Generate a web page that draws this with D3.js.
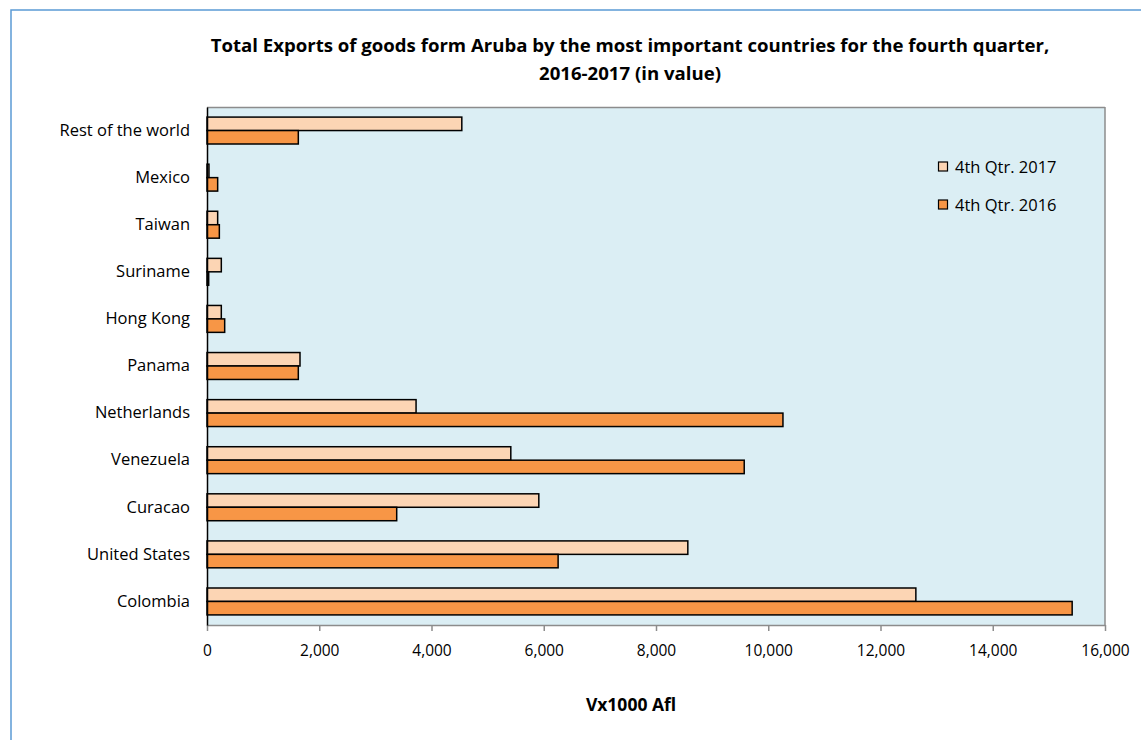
<!DOCTYPE html>
<html><head><meta charset="utf-8">
<script src="https://cdn.jsdelivr.net/npm/d3@7"></script>
<style>body{margin:0;background:#fff}svg{display:block}text{font-family:"Open Sans","Liberation Sans",sans-serif;fill:#000}</style>
</head><body>
<svg id="c" width="1141" height="740"></svg>
<script>
const categories = ["Rest of the world","Mexico","Taiwan","Suriname","Hong Kong","Panama","Netherlands","Venezuela","Curacao","United States","Colombia"];
const values2017 = [4540, 35, 190, 255, 255, 1657, 3725, 5413, 5912, 8567, 12630];
const values2016 = [1627, 190, 220, 30, 315, 1627, 10262, 9572, 3380, 6256, 15415];
const seriesNames = ["4th Qtr. 2017", "4th Qtr. 2016"];
const seriesColors = ["#fcd5b4", "#f79646"];
const xTicks = [0,2000,4000,6000,8000,10000,12000,14000,16000];
const titleLines = ["Total Exports of goods form Aruba by the most important countries for the fourth quarter,", "2016-2017 (in value)"];
const xTitle = "Vx1000 Afl";

const svg = d3.select("#c");
svg.append("rect").attr("x",11).attr("y",10).attr("width",1400).attr("height",900).attr("fill","#fff").attr("stroke","#5b9bd5").attr("stroke-width",1.5);

const L=207, R=1105, T=107, B=625;
const x = d3.scaleLinear().domain([0,16000]).range([L,R]);
const y = d3.scaleBand().domain(categories).range([T,B]).paddingInner(0.4286).paddingOuter(0.2143);
const y1 = d3.scaleBand().domain(seriesNames).range([0,y.bandwidth()]);

svg.append("rect").attr("x",L).attr("y",T).attr("width",R-L).attr("height",B-T).attr("fill","#dbeef4");
svg.append("line").attr("x1",L).attr("x2",R).attr("y1",T+0.5).attr("y2",T+0.5).attr("stroke","#8c8c8c").attr("stroke-width",1.5);
svg.append("line").attr("x1",R).attr("x2",R).attr("y1",T).attr("y2",B).attr("stroke","#8c8c8c").attr("stroke-width",1.5);

const data = categories.map((c,i)=>({c, v:[values2017[i], values2016[i]]}));
const g = svg.append("g");
data.forEach(d=>{
  seriesNames.forEach((s,j)=>{
    g.append("rect").attr("x",x(0)).attr("y",y(d.c)+y1(s))
      .attr("width",x(d.v[j])-x(0)).attr("height",y1.bandwidth())
      .attr("fill",seriesColors[j]).attr("stroke","#000").attr("stroke-width",1.5);
  });
});

// x axis
const xa = svg.append("g").attr("transform",`translate(0,${B})`)
  .call(d3.axisBottom(x).tickValues(xTicks).tickFormat(d3.format(",")).tickSize(6).tickSizeOuter(0));
xa.select(".domain").attr("stroke","#8c8c8c").attr("stroke-width",1.5);
xa.selectAll(".tick line").attr("stroke","#8c8c8c").attr("stroke-width",1.5);
xa.selectAll(".tick text").attr("dy",null).attr("y",31).style("font-size","15.5px").attr("fill","#000");

// y axis
const ya = svg.append("g").attr("transform",`translate(${L},0)`)
  .call(d3.axisLeft(y).tickSize(0).tickPadding(17));
ya.select(".domain").attr("stroke","#000").attr("stroke-width",1.5);
ya.selectAll(".tick text").style("font-size","16.5px").attr("fill","#000");

// title
svg.append("text").attr("x",630).attr("y",52).attr("text-anchor","middle").style("font-size","18.6px").style("font-weight","bold").text(titleLines[0]);
svg.append("text").attr("x",630).attr("y",80).attr("text-anchor","middle").style("font-size","18.6px").style("font-weight","bold").text(titleLines[1]);
svg.append("text").attr("x",631).attr("y",711).attr("text-anchor","middle").style("font-size","17.5px").style("font-weight","bold").text(xTitle);

// legend
const lg = svg.append("g");
seriesNames.forEach((s,j)=>{
  const yy = 162 + j*38;
  lg.append("rect").attr("x",938.5).attr("y",yy).attr("width",9).attr("height",9).attr("fill",seriesColors[j]).attr("stroke","#000").attr("stroke-width",1.2);
  lg.append("text").attr("x",955).attr("y",yy+11).style("font-size","16.5px").text(s);
});
</script>
</body></html>
